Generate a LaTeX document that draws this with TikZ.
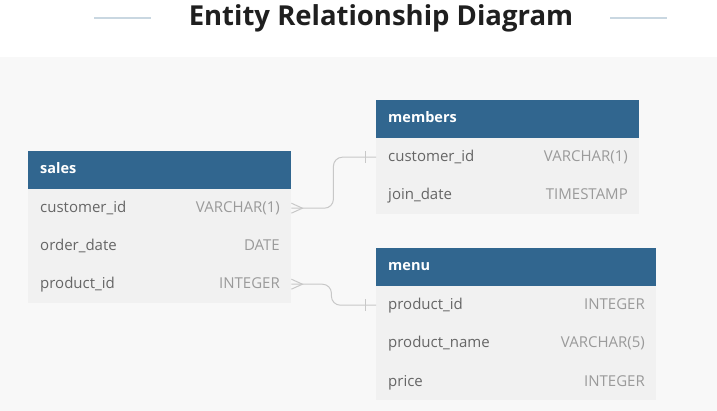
\documentclass[tikz,border=0pt]{standalone}
\usepackage{fontspec}
\setmainfont{Open Sans}
\usetikzlibrary{calc}
\definecolor{hdrblue}{HTML}{31668F}
\definecolor{rowgray}{HTML}{F1F1F1}
\definecolor{bggray}{HTML}{F8F8F8}
\definecolor{fname}{HTML}{666666}
\definecolor{ftype}{HTML}{9A9A9A}
\definecolor{conn}{HTML}{C8C8C8}
\definecolor{deco}{HTML}{C9D7E1}
\definecolor{titlec}{HTML}{1F1F1F}
\tikzset{
  hdrbox/.style={fill=hdrblue, draw=none, inner sep=0pt, anchor=north west, minimum height=38pt},
  rowbox/.style={fill=rowgray, draw=none, inner sep=0pt, anchor=north west, minimum height=38pt},
  hdrtext/.style={anchor=base west, inner sep=0pt, text=white, font=\fontsize{14.5}{16}\selectfont\bfseries},
  nametext/.style={anchor=base west, inner sep=0pt, text=fname, font=\fontsize{15}{17}\selectfont},
  typetext/.style={anchor=base east, inner sep=0pt, text=ftype, font=\fontsize{15}{17}\selectfont},
  connline/.style={draw=conn, line width=1pt, rounded corners=9pt},
  connmark/.style={draw=conn, line width=1pt},
  decoline/.style={draw=deco, line width=1.2pt}
}
\begin{document}
\begin{tikzpicture}[x=1pt,y=-1pt]
\useasboundingbox (0,0) rectangle (717,411);
\fill[white] (0,0) rectangle (717,57);
\fill[bggray] (0,57) rectangle (717,411);
% title
\node[inner sep=0pt, text=titlec, font=\fontsize{27.5}{31}\selectfont\bfseries] (title) at (381,18) {Entity Relationship Diagram};
\draw[decoline] (94,18) -- (151,18);
\draw[decoline] (610,18) -- (667,18);

% sales
\node[hdrbox, minimum width=263pt] (salesh) at (28,151) {};
\node[hdrtext] at (40,174) {sales};
\node[rowbox, minimum width=263pt] (s1) at (28,189) {};
\node[rowbox, minimum width=263pt] (s2) at (28,227) {};
\node[rowbox, minimum width=263pt] (s3) at (28,265) {};
\node[nametext] at (40,213) {customer\_id};
\node[typetext] at (280,213) {VARCHAR(1)};
\node[nametext] at (40,251) {order\_date};
\node[typetext] at (280,251) {DATE};
\node[nametext] at (40,289) {product\_id};
\node[typetext] at (280,289) {INTEGER};

% members
\node[hdrbox, minimum width=263pt] (memh) at (376,100) {};
\node[hdrtext] at (388,123) {members};
\node[rowbox, minimum width=263pt] (m1) at (376,138) {};
\node[rowbox, minimum width=263pt] (m2) at (376,176) {};
\node[nametext] at (388,162) {customer\_id};
\node[typetext] at (628,162) {VARCHAR(1)};
\node[nametext] at (388,200) {join\_date};
\node[typetext] at (628,200) {TIMESTAMP};

% menu
\node[hdrbox, minimum width=280pt] (menuh) at (376,248) {};
\node[hdrtext] at (388,271) {menu};
\node[rowbox, minimum width=280pt] (n1) at (376,286) {};
\node[rowbox, minimum width=280pt] (n2) at (376,324) {};
\node[rowbox, minimum width=280pt] (n3) at (376,362) {};
\node[nametext] at (388,310) {product\_id};
\node[typetext] at (645,310) {INTEGER};
\node[nametext] at (388,348) {product\_name};
\node[typetext] at (645,348) {VARCHAR(5)};
\node[nametext] at (388,386) {price};
\node[typetext] at (645,386) {INTEGER};

% connectors
\draw[connline] (s1.east) -- ($(s1.east)+(42,0)$) |- (m1.west);
\draw[connmark] ($(s1.east)+(0,-5)$) -- ($(s1.east)+(11,0)$) -- ($(s1.east)+(0,5)$);
\draw[connmark] ($(m1.west)+(-11,-6)$) -- ($(m1.west)+(-11,6)$);

\draw[connline] (s3.east) -- ($(s3.east)+(40,0)$) |- (n1.west);
\draw[connmark] ($(s3.east)+(0,-5)$) -- ($(s3.east)+(11,0)$) -- ($(s3.east)+(0,5)$);
\draw[connmark] ($(n1.west)+(-11,-6)$) -- ($(n1.west)+(-11,6)$);
\end{tikzpicture}
\end{document}
